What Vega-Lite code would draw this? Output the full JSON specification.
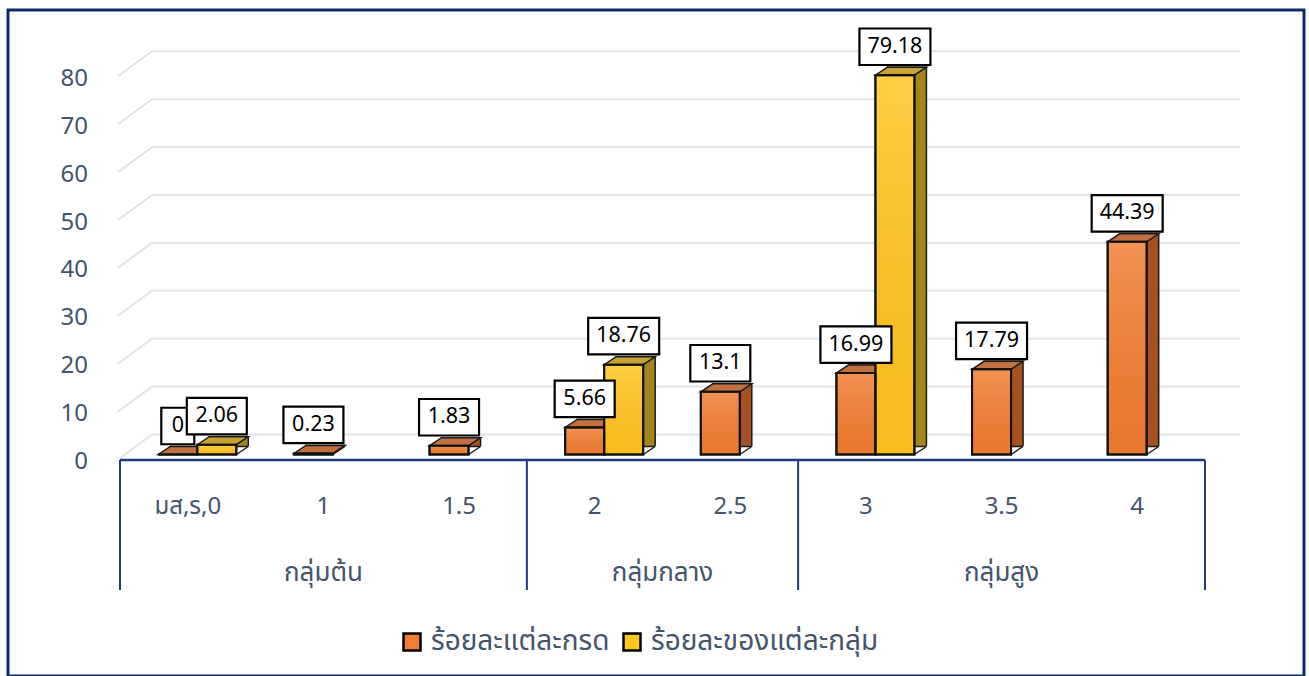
{
  "$schema": "https://vega.github.io/schema/vega-lite/v6.json",
  "width": 1296,
  "height": 666,
  "autosize": {"type": "none"},
  "padding": {"left": 8, "top": 10, "right": 5, "bottom": 0},
  "background": "white",
  "config": {
    "view": {"stroke": "#0E2A6B", "strokeWidth": 3},
    "font": "Noto Sans Thai, Tahoma, Leelawadee UI, Noto Sans, sans-serif"
  },
  "datasets": {
    "bars": [
      {"grade": "มส,ร,0", "series": "ร้อยละแต่ละกรด", "value": 0},
      {"grade": "1", "series": "ร้อยละแต่ละกรด", "value": 0.23},
      {"grade": "1.5", "series": "ร้อยละแต่ละกรด", "value": 1.83},
      {"grade": "2", "series": "ร้อยละแต่ละกรด", "value": 5.66},
      {"grade": "2.5", "series": "ร้อยละแต่ละกรด", "value": 13.1},
      {"grade": "3", "series": "ร้อยละแต่ละกรด", "value": 16.99},
      {"grade": "3.5", "series": "ร้อยละแต่ละกรด", "value": 17.79},
      {"grade": "4", "series": "ร้อยละแต่ละกรด", "value": 44.39},
      {"grade": "มส,ร,0", "series": "ร้อยละของแต่ละกลุ่ม", "value": 2.06},
      {"grade": "2", "series": "ร้อยละของแต่ละกลุ่ม", "value": 18.76},
      {"grade": "3", "series": "ร้อยละของแต่ละกลุ่ม", "value": 79.18}
    ],
    "grid": [
      {"level": 0}, {"level": 10}, {"level": 20}, {"level": 30}, {"level": 40},
      {"level": 50}, {"level": 60}, {"level": 70}, {"level": 80}
    ],
    "grades": [
      {"grade": "มส,ร,0"}, {"grade": "1"}, {"grade": "1.5"}, {"grade": "2"},
      {"grade": "2.5"}, {"grade": "3"}, {"grade": "3.5"}, {"grade": "4"}
    ]
  },
  "resolve": {"scale": {"xOffset": "independent"}},
  "layer": [
    {
      "data": {"name": "grid"},
      "mark": {"type": "rule", "color": "#E1E4EA", "strokeWidth": 2, "xOffset": 32, "x2Offset": 35, "yOffset": -20},
      "encoding": {
        "x": {"datum": "มส,ร,0", "type": "nominal", "bandPosition": 0, "axis": null,
              "scale": {"domain": ["มส,ร,0", "1", "1.5", "2", "2.5", "3", "3.5", "4"], "range": [112, 1197], "paddingInner": 0, "paddingOuter": 0}},
        "x2": {"datum": "4", "bandPosition": 1},
        "y": {"field": "level", "type": "quantitative", "axis": null,
              "scale": {"domain": [0, 90], "range": [444.5, 13.4], "nice": false, "zero": true}}
      }
    },
    {
      "data": {"name": "grid"},
      "mark": {"type": "point", "shape": "M-1,0.735L1,-0.735", "size": 1156, "filled": false, "stroke": "#E1E4EA", "strokeWidth": 2, "opacity": 1, "xOffset": 15, "yOffset": -7.5},
      "encoding": {
        "x": {"datum": "มส,ร,0", "type": "nominal", "bandPosition": 0, "axis": null},
        "y": {"field": "level", "type": "quantitative", "axis": null}
      }
    },
    {
      "data": {"name": "grid"},
      "mark": {"type": "text", "fontSize": 24, "color": "#44546A", "align": "right", "baseline": "middle", "xOffset": -32, "yOffset": 7.5},
      "encoding": {
        "x": {"datum": "มส,ร,0", "type": "nominal", "bandPosition": 0, "axis": null},
        "y": {"field": "level", "type": "quantitative", "axis": null},
        "text": {"field": "level", "type": "quantitative"}
      }
    },
    {
      "data": {"values": [{"grade": "มส,ร,0"}, {"grade": "2"}, {"grade": "3"}]},
      "mark": {"type": "rule", "color": "#1F3B7B", "strokeWidth": 2},
      "encoding": {
        "x": {"field": "grade", "type": "nominal", "bandPosition": 0, "axis": null},
        "y": {"datum": -1.15, "type": "quantitative", "axis": null},
        "y2": {"datum": -28.3}
      }
    },
    {
      "data": {"values": [{"grade": "4"}]},
      "mark": {"type": "rule", "color": "#1F3B7B", "strokeWidth": 2},
      "encoding": {
        "x": {"field": "grade", "type": "nominal", "bandPosition": 1, "axis": null},
        "y": {"datum": -1.15, "type": "quantitative", "axis": null},
        "y2": {"datum": -28.3}
      }
    },
    {
      "data": {"values": [{"grade": "4"}]},
      "mark": {"type": "rule", "color": "#1F3B7B", "strokeWidth": 2.5},
      "encoding": {
        "x": {"datum": "มส,ร,0", "type": "nominal", "bandPosition": 0, "axis": null},
        "x2": {"datum": "4", "bandPosition": 1},
        "y": {"datum": -1.15, "type": "quantitative", "axis": null}
      }
    },
    {
      "data": {"name": "grades"},
      "mark": {"type": "text", "fontSize": 24, "color": "#44546A", "align": "center", "baseline": "middle"},
      "encoding": {
        "x": {"field": "grade", "type": "nominal", "axis": null},
        "y": {"datum": -10.96, "type": "quantitative", "axis": null},
        "text": {"field": "grade"}
      }
    },
    {
      "data": {"values": [{"group": "กลุ่มต้น", "grade": "1"}, {"group": "กลุ่มสูง", "grade": "3.5"}]},
      "mark": {"type": "text", "fontSize": 26, "color": "#44546A", "baseline": "middle", "align": "center"},
      "encoding": {
        "x": {"field": "grade", "type": "nominal", "bandPosition": 0.5, "axis": null},
        "y": {"datum": -24.74, "type": "quantitative", "axis": null},
        "text": {"field": "group"}
      }
    },
    {
      "data": {"values": [{"group": "กลุ่มกลาง", "grade": "2"}]},
      "mark": {"type": "text", "fontSize": 26, "color": "#44546A", "baseline": "middle", "align": "center"},
      "encoding": {
        "x": {"field": "grade", "type": "nominal", "bandPosition": 1, "axis": null},
        "y": {"datum": -24.74, "type": "quantitative", "axis": null},
        "text": {"field": "group"}
      }
    },
    {
      "data": {"name": "bars"},
      "mark": {"type": "bar", "yOffset": -8, "stroke": "#1B1B1B", "strokeWidth": 1.5},
      "encoding": {
        "x": {"field": "grade", "type": "nominal", "axis": null},
        "xOffset": {"field": "series", "type": "nominal", "scale": {"domain": ["ร้อยละแต่ละกรด", "ร้อยละของแต่ละกลุ่ม"], "range": [50.3, 128.3], "paddingInner": 0, "paddingOuter": 0}},
        "y": {"field": "value", "type": "quantitative", "axis": null},
        "fill": {"condition": {"test": "datum.series === 'ร้อยละแต่ละกรด'", "value": "#A5521E"}, "value": "#A2861C"}
      }
    },
    {
      "data": {"name": "bars"},
      "mark": {"type": "point", "shape": "M0.4875,0L0.8125,-0.2167L0.8125,0.0375L0.4875,0.0375Z", "size": 6400, "filled": true, "fill": "white", "strokeWidth": 0, "opacity": 1},
      "encoding": {
        "x": {"field": "grade", "type": "nominal", "axis": null},
        "xOffset": {"field": "series", "type": "nominal", "scale": {"type": "point", "domain": ["ร้อยละแต่ละกรด", "ร้อยละของแต่ละกลุ่ม"], "range": [57.8, 96.8], "padding": 0}},
        "y": {"datum": 0, "type": "quantitative", "axis": null}
      }
    },
    {
      "data": {"name": "bars"},
      "mark": {"type": "point", "shape": "M0.4875,0L0.7875,-0.2", "size": 6400, "filled": false, "stroke": "#1B1B1B", "strokeWidth": 1.5, "opacity": 1},
      "encoding": {
        "x": {"field": "grade", "type": "nominal", "axis": null},
        "xOffset": {"field": "series", "type": "nominal", "scale": {"type": "point", "domain": ["ร้อยละแต่ละกรด", "ร้อยละของแต่ละกลุ่ม"], "range": [57.8, 96.8], "padding": 0}},
        "y": {"datum": 0, "type": "quantitative", "axis": null}
      }
    },
    {
      "data": {"name": "bars"},
      "mark": {"type": "point", "shape": "M-0.4875,0L0.4875,0L0.7875,-0.2L-0.1875,-0.2Z", "size": 6400, "filled": true, "stroke": "#1B1B1B", "strokeWidth": 1.5, "opacity": 1},
      "encoding": {
        "x": {"field": "grade", "type": "nominal", "axis": null},
        "xOffset": {"field": "series", "type": "nominal", "scale": {"type": "point", "domain": ["ร้อยละแต่ละกรด", "ร้อยละของแต่ละกลุ่ม"], "range": [57.8, 96.8], "padding": 0}},
        "y": {"field": "value", "type": "quantitative", "axis": null},
        "fill": {"condition": {"test": "datum.series === 'ร้อยละแต่ละกรด'", "value": "#C37040"}, "value": "#C9A236"}
      }
    },
    {
      "data": {"name": "bars"},
      "mark": {"type": "bar", "stroke": "#111111", "strokeWidth": 2},
      "encoding": {
        "x": {"field": "grade", "type": "nominal", "axis": null},
        "xOffset": {"field": "series", "type": "nominal", "scale": {"domain": ["ร้อยละแต่ละกรด", "ร้อยละของแต่ละกลุ่ม"], "range": [38.3, 116.3], "paddingInner": 0, "paddingOuter": 0}},
        "y": {"field": "value", "type": "quantitative", "axis": null},
        "fill": {"field": "series", "type": "nominal",
                 "scale": {"domain": ["ร้อยละแต่ละกรด", "ร้อยละของแต่ละกลุ่ม"], "range": ["#F07E33", "#FFC620"]},
                 "legend": {"orient": "none", "legendX": 390, "legendY": 618, "direction": "horizontal", "title": null, "labelFontSize": 28, "labelColor": "#44546A", "labelLimit": 0, "symbolType": "square", "symbolSize": 289, "symbolStrokeColor": "#000000", "symbolStrokeWidth": 2.5, "columnPadding": 8, "labelOffset": 5}}
      }
    },
    {
      "data": {"name": "bars"},
      "mark": {"type": "bar", "stroke": "#111111", "strokeWidth": 2,
               "fill": {"gradient": "linear", "x1": 0, "y1": 0, "x2": 0, "y2": 1,
                        "stops": [{"offset": 0, "color": "rgba(255,255,255,0.16)"}, {"offset": 1, "color": "rgba(120,40,0,0.06)"}]}},
      "encoding": {
        "x": {"field": "grade", "type": "nominal", "axis": null},
        "xOffset": {"field": "series", "type": "nominal", "scale": {"domain": ["ร้อยละแต่ละกรด", "ร้อยละของแต่ละกลุ่ม"], "range": [38.3, 116.3], "paddingInner": 0, "paddingOuter": 0}},
        "y": {"field": "value", "type": "quantitative", "axis": null}
      }
    },
    {
      "data": {"name": "bars"},
      "transform": [
        {"calculate": "toString(datum.value)", "as": "label"},
        {"calculate": "(22 + 11 * length(datum.label) - (indexof(datum.label, '.') >= 0 ? 6 : 0)) / 100", "as": "hw"},
        {"calculate": "'M' + (-datum.hw) + ',-0.365L' + datum.hw + ',-0.365L' + datum.hw + ',0.365L' + (-datum.hw) + ',0.365Z'", "as": "box"}
      ],
      "mark": {"type": "point", "size": 10000, "filled": true, "fill": "white", "stroke": "#000000", "strokeWidth": 2.2, "opacity": 1, "yOffset": -28.5},
      "encoding": {
        "x": {"field": "grade", "type": "nominal", "axis": null},
        "xOffset": {"field": "series", "type": "nominal", "scale": {"type": "point", "domain": ["ร้อยละแต่ละกรด", "ร้อยละของแต่ละกลุ่ม"], "range": [57.8, 96.8], "padding": 0}},
        "y": {"field": "value", "type": "quantitative", "axis": null},
        "shape": {"field": "box", "type": "nominal", "scale": null, "legend": null}
      }
    },
    {
      "data": {"name": "bars"},
      "transform": [{"calculate": "toString(datum.value)", "as": "label"}],
      "mark": {"type": "text", "fontSize": 21.5, "color": "#000000", "align": "center", "baseline": "middle", "yOffset": -28.5, "font": "Noto Sans"},
      "encoding": {
        "x": {"field": "grade", "type": "nominal", "axis": null},
        "xOffset": {"field": "series", "type": "nominal", "scale": {"type": "point", "domain": ["ร้อยละแต่ละกรด", "ร้อยละของแต่ละกลุ่ม"], "range": [57.8, 96.8], "padding": 0}},
        "y": {"field": "value", "type": "quantitative", "axis": null},
        "text": {"field": "label", "type": "nominal"}
      }
    }
  ]
}
